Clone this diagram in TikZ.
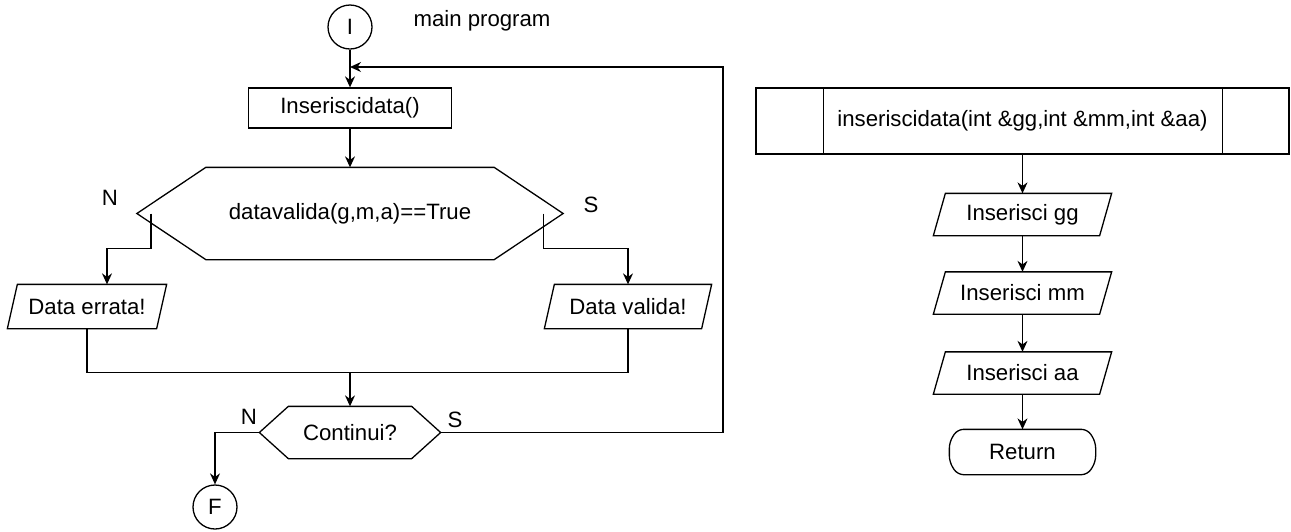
\documentclass[tikz,border=0pt]{standalone}
\usepackage{fontspec}
\setmainfont{Liberation Sans}
\usetikzlibrary{arrows.meta}

\begin{document}
\begin{tikzpicture}[x=0.5pt, y=-0.5pt, line width=0.65pt,
    font=\fontsize{11.1pt}{13pt}\selectfont,
    every node/.style={inner sep=0pt},
    arr/.style={-{Stealth[length=5.5pt, width=5pt, inset=1.8pt]}},
    term/.style={circle, draw, minimum size=22pt},
    proc/.style={rectangle, draw, minimum height=20pt},
    iobox/.style={rectangle, minimum width=88.5pt, minimum height=20.5pt}]
  \useasboundingbox (0,0) rectangle (1291,531);
  \node[term] (I) at (350,27) {I};
  \node (main) at (482,21) {main program};
  \node[proc, minimum width=101.5pt] (ins) at (350,108) {Inseriscidata()};
  \node[minimum width=212.5pt, minimum height=45.5pt] (dv) at (350,213.5) {datavalida(g,m,a)==True};
  \draw (dv.west) -- ([xshift=34.5pt]dv.north west) -- ([xshift=-34.5pt]dv.north east) -- (dv.east)
    -- ([xshift=-34.5pt]dv.south east) -- ([xshift=34.5pt]dv.south west) -- cycle;
  \node (n1) at (110,198) {N};
  \node (s1) at (591,205) {S};
  \node[minimum width=79pt, minimum height=21.5pt] (err) at (87,306.5) {Data errata!};
  \draw ([xshift=5pt]err.north west) -- (err.north east) -- ([xshift=-5pt]err.south east) -- (err.south west) -- cycle;
  \node[minimum width=83pt, minimum height=21.5pt] (val) at (628,306.5) {Data valida!};
  \draw ([xshift=5pt]val.north west) -- (val.north east) -- ([xshift=-5pt]val.south east) -- (val.south west) -- cycle;
  \node[minimum width=90pt, minimum height=25.5pt] (cont) at (350,432.5) {Continui?};
  \draw (cont.west) -- ([xshift=14.5pt]cont.north west) -- ([xshift=-14.5pt]cont.north east) -- (cont.east)
    -- ([xshift=-14.5pt]cont.south east) -- ([xshift=14.5pt]cont.south west) -- cycle;
  \node (n2) at (249,417) {N};
  \node (s2) at (455,420) {S};
  \node[term] (F) at (215,507) {F};
  \coordinate (back) at (350,67);
  \coordinate (loop) at (723,67);
  \coordinate (join) at (350,372);
  \draw[arr] (I) -- (ins);
  \draw[arr] (ins) -- (dv);
  \draw[arr] ([xshift=7pt]dv.west) -- ++(0,35) -| ([xshift=10pt]err.north);
  \draw[arr] ([xshift=-10pt]dv.east) -- ++(0,35) -| (val.north);
  \draw (err.south) -- ++(0,44) -| (val.south);
  \draw[arr] (join) -- (cont);
  \draw[arr] (cont.west) -| (F);
  \draw[arr] (cont.east) -| (loop) -- (back);
  \node[proc, minimum width=266.5pt, minimum height=33pt] (sub) at (1022.5,121) {inseriscidata(int \&gg,int \&mm,int \&aa)};
  \draw ([xshift=34pt]sub.north west) -- ([xshift=34pt]sub.south west);
  \draw ([xshift=-33.5pt]sub.north east) -- ([xshift=-33.5pt]sub.south east);
  \node[iobox] (gg) at (1022.5,214.5) {Inserisci gg};
  \draw ([xshift=6pt]gg.north west) -- (gg.north east) -- ([xshift=-6pt]gg.south east) -- (gg.south west) -- cycle;
  \node[iobox] (mm) at (1022.5,293) {Inserisci mm};
  \draw ([xshift=6pt]mm.north west) -- (mm.north east) -- ([xshift=-6pt]mm.south east) -- (mm.south west) -- cycle;
  \node[iobox] (aa) at (1022.5,373) {Inserisci aa};
  \draw ([xshift=6pt]aa.north west) -- (aa.north east) -- ([xshift=-6pt]aa.south east) -- (aa.south west) -- cycle;
  \node[minimum width=72.5pt, minimum height=22pt] (ret) at (1022.5,452) {Return};
  \draw[rounded corners=3pt] ([xshift=4pt]ret.north west) -- ([xshift=-4pt]ret.north east) -- ([yshift=5pt]ret.east)
    -- ([yshift=-5pt]ret.east) -- ([xshift=-4pt]ret.south east) -- ([xshift=4pt]ret.south west)
    -- ([yshift=-5pt]ret.west) -- ([yshift=5pt]ret.west) -- cycle;
  \draw[arr] (sub) -- (gg);
  \draw[arr] (gg) -- (mm);
  \draw[arr] (mm) -- (aa);
  \draw[arr] (aa) -- (ret);
\end{tikzpicture}
\end{document}
